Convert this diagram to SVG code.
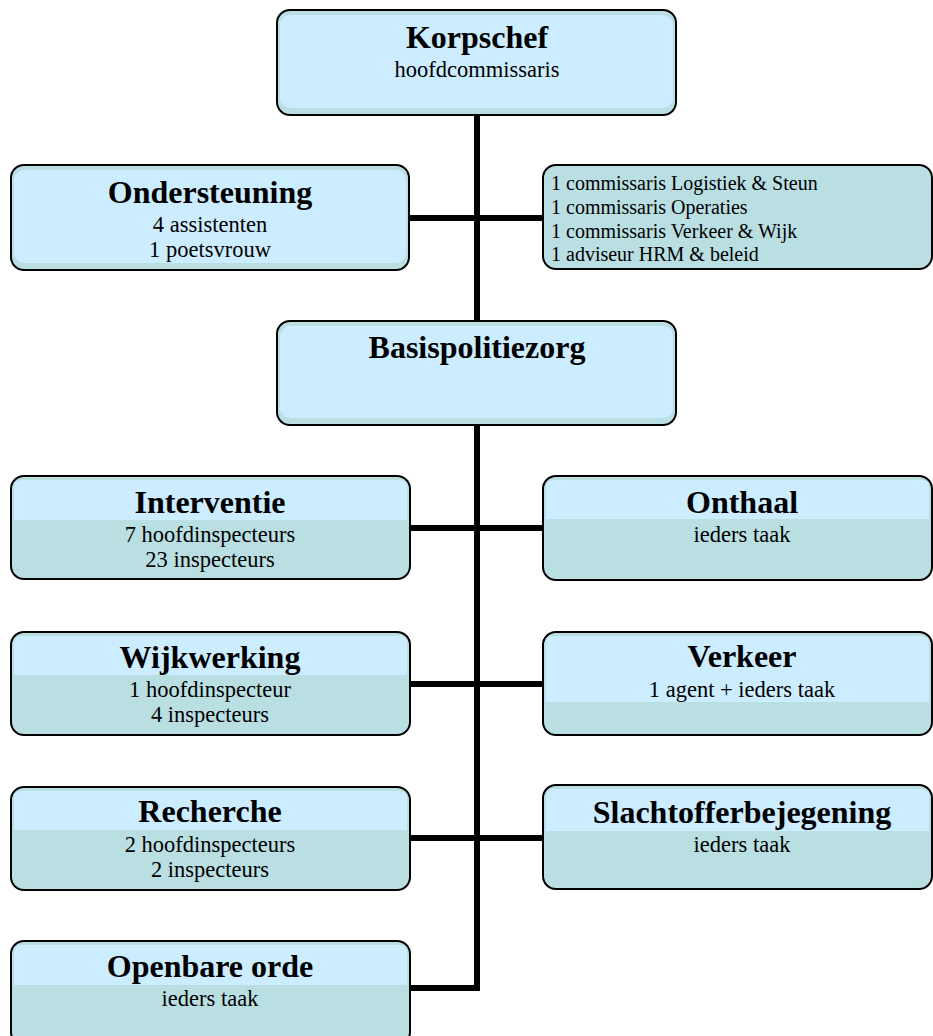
<svg xmlns="http://www.w3.org/2000/svg" width="933" height="1036" viewBox="0 0 933 1036">
<style>
.box{fill:#B9DFE3;stroke:#000;stroke-width:2}
.lt{fill:#CCECFF}
text{font-family:'Liberation Serif','Times New Roman',Times,serif;fill:#000}
.t{font-weight:bold;font-size:32px;text-anchor:middle}
.s{font-size:22.5px;text-anchor:middle}
.l{font-size:20px}
.c{stroke:#000;stroke-width:6;fill:none}
</style>
<rect width="933" height="1036" fill="#fff"/>
<g id="connectors">
<line class="c" x1="477" y1="115" x2="477" y2="321"/>
<line class="c" x1="410" y1="218" x2="543" y2="218"/>
<polyline class="c" points="477,425 477,988 410,988"/>
<line class="c" x1="410" y1="528" x2="543" y2="528"/>
<line class="c" x1="410" y1="684" x2="543" y2="684"/>
<line class="c" x1="410" y1="838" x2="543" y2="838"/>
</g>
<g id="korpschef">
<rect class="box" x="277" y="10" width="399" height="105" rx="13"/>
<rect class="lt" x="280" y="15" width="393" height="93" rx="10"/>
<text class="t" x="477" y="48">Korpschef</text>
<text class="s" x="477" y="77">hoofdcommissaris</text>
</g>
<g id="ondersteuning">
<rect class="box" x="11" y="165" width="398" height="105" rx="13"/>
<rect class="lt" x="14" y="170" width="392" height="93" rx="10"/>
<text class="t" x="210" y="203">Ondersteuning</text>
<text class="s" x="210" y="232">4 assistenten</text>
<text class="s" x="210" y="257">1 poetsvrouw</text>
</g>
<g id="commissarissen">
<rect class="box" x="543" y="165" width="389" height="104" rx="13"/>
<text class="l" x="551" y="190">1 commissaris Logistiek &amp; Steun</text>
<text class="l" x="551" y="214">1 commissaris Operaties</text>
<text class="l" x="551" y="238">1 commissaris Verkeer &amp; Wijk</text>
<text class="l" x="551" y="261">1 adviseur HRM &amp; beleid</text>
</g>
<g id="basispolitiezorg">
<rect class="box" x="277" y="321" width="399" height="104" rx="13"/>
<rect class="lt" x="280" y="326" width="393" height="92" rx="10"/>
<text class="t" x="477" y="358">Basispolitiezorg</text>
</g>
<g id="interventie">
<rect class="box" x="11" y="476" width="399" height="103" rx="13"/>
<path class="lt" d="M14 520 V488 Q14 480 22 480 H399 Q407 480 407 488 V520 Z"/>
<text class="t" x="210" y="513">Interventie</text>
<text class="s" x="210" y="542">7 hoofdinspecteurs</text>
<text class="s" x="210" y="567">23 inspecteurs</text>
</g>
<g id="onthaal">
<rect class="box" x="543" y="476" width="389" height="104" rx="13"/>
<path class="lt" d="M546 519 V488 Q546 480 554 480 H921 Q929 480 929 488 V519 Z"/>
<text class="t" x="742" y="513">Onthaal</text>
<text class="s" x="742" y="542">ieders taak</text>
</g>
<g id="wijkwerking">
<rect class="box" x="11" y="632" width="399" height="103" rx="13"/>
<path class="lt" d="M14 675 V644 Q14 636 22 636 H399 Q407 636 407 644 V675 Z"/>
<text class="t" x="210" y="668">Wijkwerking</text>
<text class="s" x="210" y="697">1 hoofdinspecteur</text>
<text class="s" x="210" y="722">4 inspecteurs</text>
</g>
<g id="verkeer">
<rect class="box" x="543" y="632" width="389" height="103" rx="13"/>
<path class="lt" d="M546 702 V644 Q546 636 554 636 H921 Q929 636 929 644 V702 Z"/>
<text class="t" x="742" y="667">Verkeer</text>
<text class="s" x="742" y="697">1 agent + ieders taak</text>
</g>
<g id="recherche">
<rect class="box" x="11" y="787" width="399" height="103" rx="13"/>
<path class="lt" d="M14 830 V799 Q14 791 22 791 H399 Q407 791 407 799 V830 Z"/>
<text class="t" x="210" y="822">Recherche</text>
<text class="s" x="210" y="852">2 hoofdinspecteurs</text>
<text class="s" x="210" y="877">2 inspecteurs</text>
</g>
<g id="slachtofferbejegening">
<rect class="box" x="543" y="785" width="389" height="104" rx="13"/>
<path class="lt" d="M546 831 V797 Q546 789 554 789 H921 Q929 789 929 797 V831 Z"/>
<text class="t" x="742" y="823">Slachtofferbejegening</text>
<text class="s" x="742" y="852">ieders taak</text>
</g>
<g id="openbare-orde">
<rect class="box" x="11" y="941" width="399" height="104" rx="13"/>
<path class="lt" d="M14 985 V953 Q14 945 22 945 H399 Q407 945 407 953 V985 Z"/>
<text class="t" x="210" y="977">Openbare orde</text>
<text class="s" x="210" y="1006">ieders taak</text>
</g>
</svg>
